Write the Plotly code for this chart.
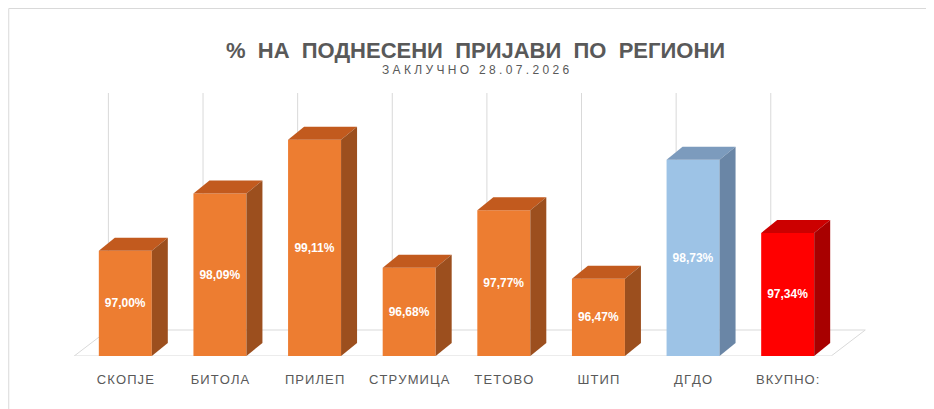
import plotly.graph_objects as go

regions = ["СКОПЈЕ", "БИТОЛА", "ПРИЛЕП", "СТРУМИЦА", "ТЕТОВО", "ШТИП", "ДГДО", "ВКУПНО:"]
values = [97.00, 98.09, 99.11, 96.68, 97.77, 96.47, 98.73, 97.34]
labels = ["97,00%", "98,09%", "99,11%", "96,68%", "97,77%", "96,47%", "98,73%", "97,34%"]

# front / top / side colours
palette = {
    "orange": ("#ED7D31", "#C25A1E", "#9C4F1E"),
    "blue": ("#9DC3E6", "#7C9BBD", "#6A86A6"),
    "red": ("#FF0000", "#CC0000", "#A80000"),
}
kinds = ["orange"] * 6 + ["blue", "red"]

W, H = 934, 409
ML, MR, MT, MB = 70, 107, 85, 61
Y0, Y1 = 95, 100
px_per_unit = (H - MT - MB) / (Y1 - Y0)
slot_px = (W - ML - MR) / len(regions)
bar_w = 0.56
half_px = bar_w * slot_px / 2
dx, dy_px = 16, 13
dy = dy_px / px_per_unit

xs = list(range(len(regions)))
fig = go.Figure(go.Bar(
    x=xs, y=[v - Y0 for v in values], base=Y0, width=bar_w,
    marker=dict(color=[palette[k][0] for k in kinds], line=dict(width=0)),
    text=[f"<b>{t}</b>" for t in labels], textposition="inside", insidetextanchor="middle",
    textfont=dict(color="white", size=12, family="Liberation Sans"),
    hoverinfo="skip",
))

shapes = []
grid = "#D9D9D9"
# outer frame
shapes.append(dict(type="rect", xref="paper", yref="paper", layer="below",
                   x0=-ML / (W - ML - MR) + 0.001, x1=1 + MR / (W - ML - MR) - 0.001,
                   y0=-MB / (H - MT - MB) + 0.002, y1=1 + MT / (H - MT - MB) - 0.002,
                   line=dict(color="#D9D9D9", width=1)))
# floor
shapes.append(dict(type="path", xref="paper", yref="y", layer="below",
                   path=f"M -0.005,{Y0} L 0.995,{Y0} L 1.04,{Y0+2*dy} L 0.04,{Y0+2*dy} Z",
                   line=dict(color=grid, width=1)))
# back wall verticals
for i in range(len(regions) + 1):
    shapes.append(dict(type="path", xref="x", yref="y", xsizemode="pixel", xanchor=i - 0.5,
                       layer="below",
                       path=f"M {dx*1.9},{Y0+2*dy} L {dx*1.9},{Y1}",
                       line=dict(color=grid, width=1)))
for i, (v, k) in enumerate(zip(values, kinds)):
    _, top, side = palette[k]
    shapes.append(dict(type="path", xref="x", yref="y", xsizemode="pixel", xanchor=i,
                       path=f"M {-half_px},{v} L {half_px},{v} L {half_px+dx},{v+dy} L {-half_px+dx},{v+dy} Z",
                       fillcolor=top, line=dict(width=0)))
    shapes.append(dict(type="path", xref="x", yref="y", xsizemode="pixel", xanchor=i,
                       path=f"M {half_px},{v} L {half_px},{Y0} L {half_px+dx},{Y0+dy} L {half_px+dx},{v+dy} Z",
                       fillcolor=side, line=dict(width=0)))

spaced = ["\u200a".join(r) for r in regions]
fig.update_layout(
    width=W, height=H, margin=dict(l=ML, r=MR, t=MT, b=MB),
    paper_bgcolor="white", plot_bgcolor="white", showlegend=False,
    shapes=shapes,
    xaxis=dict(range=[-0.5, len(regions) - 0.5], tickvals=xs, ticktext=spaced,
               showgrid=False, zeroline=False, showline=False, ticks="",
               tickfont=dict(size=13, color="#595959", family="Liberation Sans"),
               ticklabelstandoff=14),
    yaxis=dict(range=[Y0, Y1], visible=False),
    uniformtext=dict(minsize=12, mode="show"),
    annotations=[
        dict(text="<b>%  НА  ПОДНЕСЕНИ  ПРИЈАВИ  ПО  РЕГИОНИ</b>", xref="paper", yref="paper",
             x=0.5, y=1, xshift=(MR - ML) / 2, yshift=57, showarrow=False,
             font=dict(size=22, color="#595959", family="Liberation Sans")),
        dict(text="З А К Л У Ч Н О   2 8 . 0 7 . 2 0 2 6", xref="paper", yref="paper",
             x=0.5, y=1, xshift=(MR - ML) / 2, yshift=32, showarrow=False,
             font=dict(size=12, color="#595959", family="Liberation Sans")),
    ],
)

fig.write_html("out.html")
